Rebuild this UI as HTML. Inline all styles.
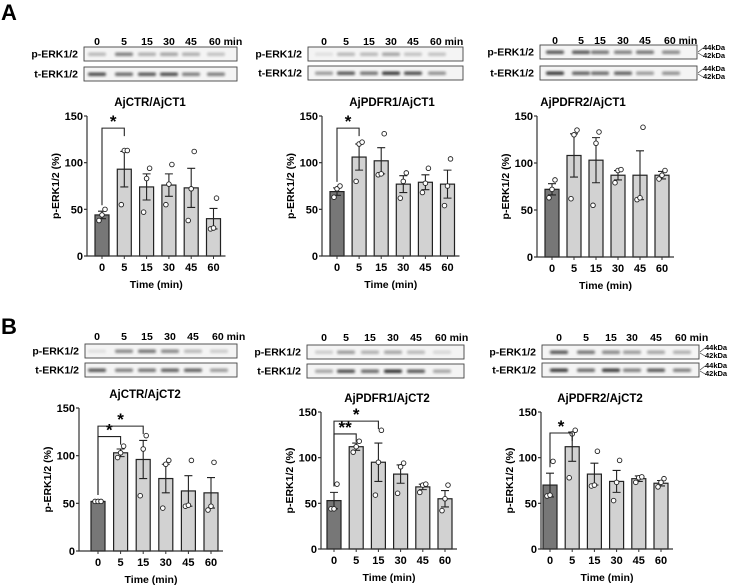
<!DOCTYPE html>
<html><head><meta charset="utf-8"><style>
html,body{margin:0;padding:0;background:#fff}
svg{display:block;font-family:"Liberation Sans",Arial,sans-serif;font-weight:bold}
</style></head><body>
<svg id="fig" width="735" height="585" viewBox="0 0 735 585">
<defs><filter id="blur" x="-20%" y="-50%" width="140%" height="200%"><feGaussianBlur stdDeviation="1.2"/></filter></defs>
<text x="1" y="20" font-size="22">A</text>
<text x="1" y="334" font-size="22">B</text>
</svg>
<script>
const categories = ["0","5","15","30","45","60"];
const yTicks = [0,50,100,150];
const titles = ["AjCTR/AjCT1","AjPDFR1/AjCT1","AjPDFR2/AjCT1","AjCTR/AjCT2","AjPDFR1/AjCT2","AjPDFR2/AjCT2"];
const meansA1 = [44,93,74,76,73,40];
const errA1 = [4,19,14,12,21,11];
const ptsA1 = [[38,44,50],[55,113,113],[47,83,94],[55,77,98],[38,72,112],[29,30,62]];
const meansA2 = [69,106,102,77,79,77];
const errA2 = [4,14,14,9,8,15];
const ptsA2 = [[63,72,75],[80,120,122],[87,88,131],[62,80,89],[68,78,94],[54,75,104]];
const meansA3 = [72,108,103,87,87,87];
const errA3 = [6,23,24,5,26,4];
const ptsA3 = [[63,72,82],[62,130,135],[55,121,133],[79,92,93],[61,63,138],[83,87,92]];
const meansB1 = [52,103,96,76,63,61];
const errB1 = [0.5,4,20,15,16,16];
const ptsB1 = [[52,52,52],[98,103,110],[58,107,121],[45,91,95],[47,48,95],[43,47,93]];
const meansB2 = [53,112,95,82,68,55];
const errB2 = [9,4,21,10,3,9];
const ptsB2 = [[44,44,71],[106,112,118],[59,95,130],[61,90,94],[62,70,71],[42,55,70]];
const meansB3 = [70,112,82,74,77,72];
const errB3 = [13,16,12,12,3,3];
const ptsB3 = [[58,59,96],[78,126,130],[69,70,107],[53,73,97],[73,78,79],[68,73,77]];
// significance: [fromIndex, toIndex, bracketValue, label]
const sigA1 = [[0,1,137,"*"]];
const sigA2 = [[0,1,137,"*"]];
const sigA3 = [];
const sigB1 = [[0,1,120,"*"],[0,2,131,"*"]];
const sigB2 = [[0,1,126,"**"],[0,2,140,"*"]];
const sigB3 = [[0,1,127,"*"]];
// blot band intensities (0-1)
const pBandsA1=[.3,.6,.35,.4,.35,.25], tBandsA1=[.85,.7,.8,.85,.6,.6];
const pBandsA2=[.1,.3,.3,.4,.25,.25], tBandsA2=[.45,.8,.65,.95,.85,.5];
const pBandsA3=[.8,.8,.65,.6,.65,.55], tBandsA3=[.95,.75,.7,.75,.45,.5];
const pBandsB1=[.1,.55,.65,.55,.3,.2], tBandsB1=[.8,.6,.65,.75,.75,.45];
const pBandsB2=[.2,.45,.35,.4,.3,.15], tBandsB2=[.4,.85,.7,1,.8,.4];
const pBandsB3=[.8,.65,.55,.45,.4,.35], tBandsB3=[.95,.7,.95,.6,.8,.6];

const svg=document.getElementById('fig');
const NS='http://www.w3.org/2000/svg';
function mk(tag,attrs,parent){const e=document.createElementNS(NS,tag);for(const k in attrs)e.setAttribute(k,attrs[k]);(parent||svg).appendChild(e);return e;}
function txt(x,y,s,size,anchor,parent){const t=mk('text',{x:x,y:y,'font-size':size,'text-anchor':anchor||'start'},parent);t.textContent=s;return t;}

function chart(o){
  const g=mk('g',{});
  
  
  const yS=v=>o.y0-(v/150)*(o.y0-o.y150);
  const xS=i=>o.bx+i*o.step;
  const bw=14;
  const t=txt(o.tx,o.y150-10,o.title,11.5,'middle',g);
  
  
  o.means.forEach((m,i)=>{
    const r=mk('rect',{x:xS(i)-bw/2,y:yS(m),width:bw,height:o.y0-yS(m),fill:i==0?'#777':'#d2d2d2',stroke:'#222','stroke-width':1.2},g);
    
    
  });
  o.means.forEach((m,i)=>{
    const x=xS(i),a=yS(m+o.err[i]),b=yS(m-o.err[i]);
    mk('path',{d:`M${x},${a}V${b}M${x-4},${a}H${x+4}M${x-4},${b}H${x+4}`,stroke:'#222','stroke-width':1.1,fill:'none'},g);
  });
  o.pts.forEach((arr,i)=>{
    arr.forEach((v,j)=>{
      const c=mk('circle',{cx:xS(i)+(j-1)*3,cy:yS(v),r:2.3,fill:'#fff',stroke:'#222','stroke-width':0.9},g);
      
      
    });
  });
  const xEnd=xS(5)+bw/2+5;
  mk('path',{d:`M${o.ax},${o.y150}V${o.y0}H${xEnd}`,stroke:'#333','stroke-width':1.2,fill:'none'},g);
  yTicks.forEach(v=>{
    mk('line',{x1:o.ax-3,x2:o.ax,y1:yS(v),y2:yS(v),stroke:'#333','stroke-width':1.2},g);
    const l=txt(o.ax-4,yS(v)+4,String(v),11,'end',g);
    
    
  });
  categories.forEach((c,i)=>{
    mk('line',{x1:xS(i),x2:xS(i),y1:o.y0,y2:o.y0+3,stroke:'#333','stroke-width':1},g);
    const l=txt(xS(i),o.y0+15,c,11,'middle',g);
    
    
  });
  const xt=txt((o.ax+xEnd)/2,o.y0+32,'Time (min)',10.5,'middle',g);
  
  
  const ym=(o.y150+o.y0)/2;
  const yt=txt(0,0,'p-ERK1/2 (%)',10.5,'middle',g);
  yt.setAttribute('transform',`translate(${o.ax-28},${ym}) rotate(-90)`);
  
  
  o.sig.forEach(s=>{
    const x1=xS(s[0]),x2=xS(s[1]),y=yS(s[2]);
    mk('path',{d:`M${x1},${yS(o.means[s[0]]+o.err[s[0]])-6}V${y}H${x2}V${y+8}`,stroke:'#222','stroke-width':1.1,fill:'none'},g);
    const st=txt((x1+x2)/2,y-1,s[3],17,'middle',g);
    
    
  });
}
function blot(o){
  const g=mk('g',{});
  
  
  const lanes=o.lanes;
  ['0','5','15','30','45'].forEach((c,i)=>txt(lanes[i],o.hy,c,10.5,'middle',g));
  txt(lanes[5]-7,o.hy,'60 min',10.5,'start',g);
  [[o.py,'p-ERK1/2',o.pb],[o.ty,'t-ERK1/2',o.tb]].forEach(([y,lab,bands])=>{
    const l=txt(o.bx-6,y+10.5,lab,10.5,'end',g);
    
    
    mk('rect',{x:o.bx,y:y,width:o.bw,height:14,fill:'#f4f4f4',stroke:'#444','stroke-width':0.9},g);
    bands.forEach((v,i)=>{
      mk('rect',{x:lanes[i]-9,y:y+5.5,width:18,height:3.5,rx:1.5,fill:'#000',opacity:v*0.8,filter:'url(#blur)'},g);
    });
    if(o.kda){
      txt(o.bx+o.bw+6,y+5,'44kDa',7.5,'start',g);
      txt(o.bx+o.bw+6,y+13,'42kDa',7.5,'start',g);
      mk('path',{d:`M${o.bx+o.bw+1},${y+7}L${o.bx+o.bw+6},${y+3}M${o.bx+o.bw+1},${y+8}L${o.bx+o.bw+6},${y+11}`,stroke:'#333','stroke-width':0.6,fill:'none'},g);
    }
  });
}
blot({id:'a1',bx:84,bw:153,hy:45,py:47,ty:67,lanes:[97,124,147,169,191,216],pb:pBandsA1,tb:tBandsA1});
blot({id:'a2',bx:308,bw:155,hy:45,py:47,ty:66,lanes:[324,346,369,391,413,437],pb:pBandsA2,tb:tBandsA2});
blot({id:'a3',bx:540,bw:157,hy:44,py:45,ty:66,lanes:[555,581,600,623,645,671],pb:pBandsA3,tb:tBandsA3,kda:true});
blot({id:'b1',bx:85,bw:152,hy:340,py:344,ty:363,lanes:[97,124,147,170,193,219],pb:pBandsB1,tb:tBandsB1});
blot({id:'b2',bx:307,bw:157,hy:341,py:345,ty:364,lanes:[324,346,370,393,416,442],pb:pBandsB2,tb:tBandsB2});
blot({id:'b3',bx:542,bw:157,hy:341,py:345,ty:363,lanes:[559,586,611,632,656,682],pb:pBandsB3,tb:tBandsB3,kda:true});

chart({id:'a1',title:titles[0],ax:87,y150:116,y0:256,bx:102,step:22.3,tx:150,means:meansA1,err:errA1,pts:ptsA1,sig:sigA1});
chart({id:'a2',title:titles[1],ax:322,y150:116,y0:256,bx:337,step:22.1,tx:392,means:meansA2,err:errA2,pts:ptsA2,sig:sigA2});
chart({id:'a3',title:titles[2],ax:537,y150:116,y0:257,bx:552,step:22,tx:583,means:meansA3,err:errA3,pts:ptsA3,sig:sigA3});
chart({id:'b1',title:titles[3],ax:79,y150:408,y0:551,bx:98,step:22.6,tx:145,means:meansB1,err:errB1,pts:ptsB1,sig:sigB1});
chart({id:'b2',title:titles[4],ax:321,y150:412,y0:549,bx:334,step:22.2,tx:387,means:meansB2,err:errB2,pts:ptsB2,sig:sigB2});
chart({id:'b3',title:titles[5],ax:541,y150:412,y0:549,bx:550,step:22.2,tx:600,means:meansB3,err:errB3,pts:ptsB3,sig:sigB3});
</script>
</body></html>
